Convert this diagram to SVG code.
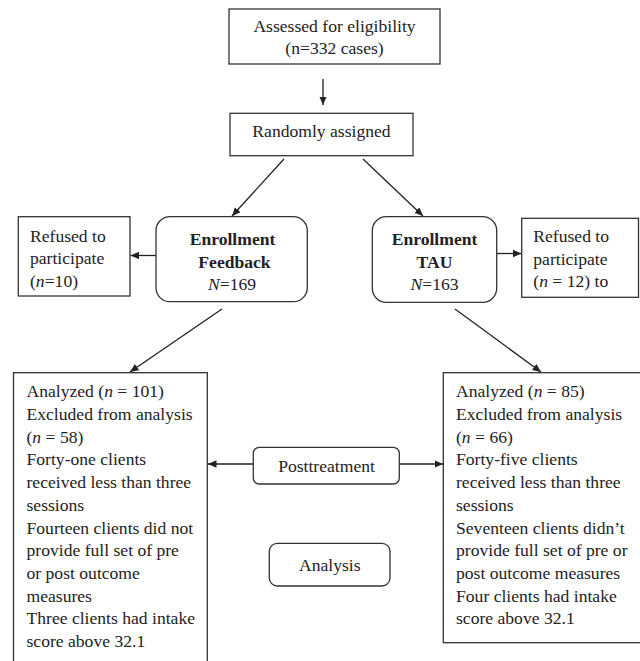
<svg xmlns="http://www.w3.org/2000/svg" width="640" height="661" viewBox="0 0 640 661">
<defs>
<marker id="ah" markerUnits="userSpaceOnUse" markerWidth="10" markerHeight="8" refX="8.5" refY="3.75" orient="auto">
<path d="M0,0 L8.5,3.75 L0,7.5 Z" fill="#222"/>
</marker>
<style>
.box{fill:#fff;stroke:#333;stroke-width:1.3}
.t{font-family:"Liberation Serif","Times New Roman",serif;font-size:17.6px;fill:#222}
.c{text-anchor:middle}
.b{font-weight:bold}
.i{font-style:italic}
.ln{stroke:#222;stroke-width:1.3;fill:none;marker-end:url(#ah)}
</style>
</defs>
<rect width="640" height="661" fill="#fff"/>

<g id="connectors">
<line class="ln" x1="323" y1="79" x2="323" y2="105"/>
<line class="ln" x1="284" y1="159" x2="232" y2="216"/>
<line class="ln" x1="363" y1="159" x2="423" y2="216"/>
<line class="ln" x1="156" y1="255.5" x2="130.5" y2="255.5"/>
<line class="ln" x1="497" y1="253.5" x2="521.5" y2="253.5"/>
<line class="ln" x1="222" y1="309" x2="130" y2="372"/>
<line class="ln" x1="455" y1="309" x2="541" y2="372"/>
<line class="ln" x1="253" y1="464" x2="208" y2="464"/>
<line class="ln" x1="399.5" y1="464" x2="443" y2="464"/>
</g>

<g id="assessed">
<rect class="box" x="229" y="9" width="211" height="55"/>
<text class="t c" x="334.5" y="31.7">Assessed for eligibility</text>
<text class="t c" x="334.5" y="54.3">(n=332 cases)</text>
</g>

<g id="randomly">
<rect class="box" x="230" y="113.3" width="183" height="42.4"/>
<text class="t c" x="321.5" y="137">Randomly assigned</text>
</g>

<g id="enroll-feedback">
<rect class="box" x="156" y="216.7" width="151.3" height="85" rx="14" ry="14"/>
<text class="t c b" x="232.5" y="245">Enrollment</text>
<text class="t c b" x="234.5" y="267.7">Feedback</text>
<text class="t c" x="232" y="290"><tspan class="i">N</tspan>=169</text>
</g>

<g id="enroll-tau">
<rect class="box" x="372.3" y="216.7" width="124.4" height="85.6" rx="14" ry="14"/>
<text class="t c b" x="434.5" y="245">Enrollment</text>
<text class="t c b" x="434.5" y="267.7">TAU</text>
<text class="t c" x="434.5" y="290"><tspan class="i">N</tspan>=163</text>
</g>

<g id="refused-left">
<rect class="box" x="18.3" y="216.7" width="111.7" height="79.3"/>
<text class="t" x="30" y="241.7">Refused to</text>
<text class="t" x="30" y="264.2">participate</text>
<text class="t" x="30" y="286.7">(<tspan class="i">n</tspan>=10)</text>
</g>

<g id="refused-right">
<rect class="box" x="521.7" y="218.3" width="116.8" height="79"/>
<text class="t" x="533.3" y="242.3">Refused to</text>
<text class="t" x="533.3" y="264.8">participate</text>
<text class="t" x="533.3" y="287.3">(<tspan class="i">n</tspan> = 12) to</text>
</g>

<g id="analyzed-feedback">
<rect class="box" x="13.5" y="372.7" width="193.8" height="300"/>
<text class="t" x="26.5" y="397.3">Analyzed (<tspan class="i">n</tspan> = 101)</text>
<text class="t" x="26.5" y="420">Excluded from analysis</text>
<text class="t" x="26.5" y="442.7">(<tspan class="i">n</tspan> = 58)</text>
<text class="t" x="26.5" y="465.4">Forty-one clients</text>
<text class="t" x="26.5" y="488.1">received less than three</text>
<text class="t" x="26.5" y="510.8">sessions</text>
<text class="t" x="26.5" y="533.5">Fourteen clients did not</text>
<text class="t" x="26.5" y="556.2">provide full set of pre</text>
<text class="t" x="26.5" y="578.9">or post outcome</text>
<text class="t" x="26.5" y="601.6">measures</text>
<text class="t" x="26.5" y="624.3">Three clients had intake</text>
<text class="t" x="26.5" y="647">score above 32.1</text>
</g>

<g id="analyzed-tau">
<rect class="box" x="443.3" y="372.7" width="220" height="270"/>
<text class="t" x="456" y="397.3">Analyzed (<tspan class="i">n</tspan> = 85)</text>
<text class="t" x="456" y="420">Excluded from analysis</text>
<text class="t" x="456" y="442.7">(<tspan class="i">n</tspan> = 66)</text>
<text class="t" x="456" y="465.4">Forty-five clients</text>
<text class="t" x="456" y="488.1">received less than three</text>
<text class="t" x="456" y="510.8">sessions</text>
<text class="t" x="456" y="533.5">Seventeen clients didn’t</text>
<text class="t" x="456" y="556.2">provide full set of pre or</text>
<text class="t" x="456" y="578.9">post outcome measures</text>
<text class="t" x="456" y="601.6">Four clients had intake</text>
<text class="t" x="456" y="624.3">score above 32.1</text>
</g>

<g id="posttreatment">
<rect class="box" x="253.3" y="447.3" width="146" height="36.7" rx="6" ry="6"/>
<text class="t c" x="326.5" y="472.3">Posttreatment</text>
</g>

<g id="analysis">
<rect class="box" x="269.3" y="543.3" width="120.7" height="42.7" rx="8" ry="8"/>
<text class="t c" x="329.8" y="571">Analysis</text>
</g>
</svg>
